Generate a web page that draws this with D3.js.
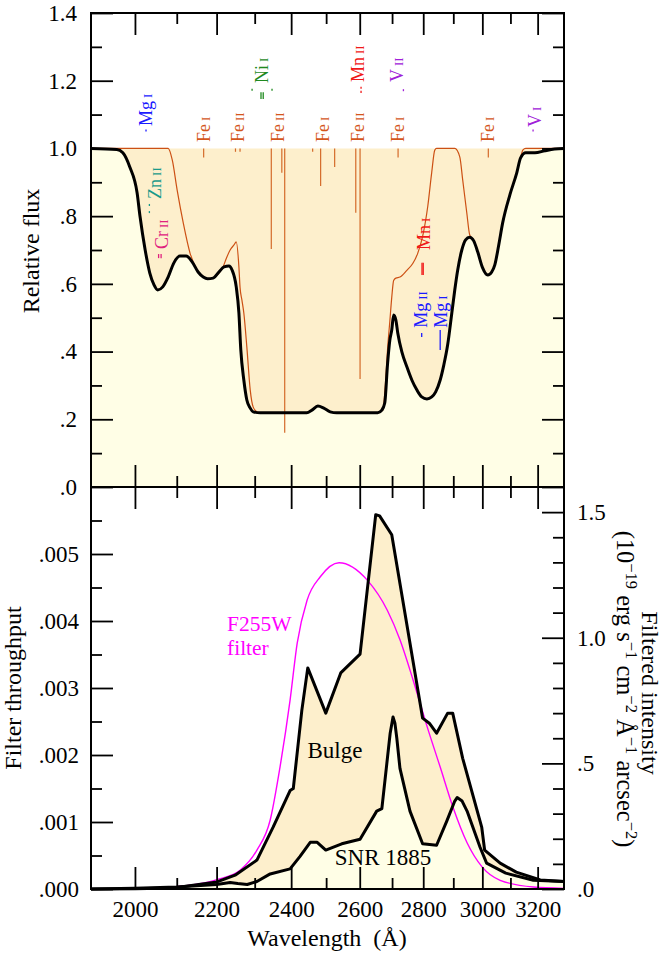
<!DOCTYPE html>
<html><head><meta charset="utf-8">
<script src="https://cdn.jsdelivr.net/npm/d3@7"></script>
<style>body{margin:0;background:#fff}svg{display:block}</style>
</head><body><svg id="c" width="665" height="954"></svg>
<script>
// ---------- data ----------
const wavelengthTicks = [2000, 2200, 2400, 2600, 2800, 3000, 3200];
const wavelengthMinor = [2100, 2300, 2500, 2700, 2900, 3100];
const fluxTicks = [0, 0.2, 0.4, 0.6, 0.8, 1.0, 1.2, 1.4];
const fluxTickLabels = [".0", ".2", ".4", ".6", ".8", "1.0", "1.2", "1.4"];
const fluxMinor = [0.1, 0.3, 0.5, 0.7, 0.9, 1.1, 1.3];
const throughputTicks = [0, 0.001, 0.002, 0.003, 0.004, 0.005];
const throughputTickLabels = [".000", ".001", ".002", ".003", ".004", ".005"];
const throughputMinor = [0.0005, 0.0015, 0.0025, 0.0035, 0.0045, 0.0055];
const intensityTicks = [0, 0.5, 1.0, 1.5];
const intensityTickLabels = [".0", ".5", "1.0", "1.5"];
const intensityMinor = [0.1, 0.2, 0.3, 0.4, 0.6, 0.7, 0.8, 0.9, 1.1, 1.2, 1.3, 1.4];

// top panel: broad absorption profile (thick black)
const fluxProfile = [
 [1900,1.0],[1958,0.997],[1972,0.987],[1988,0.945],[2005,0.869],[2012,0.798],[2024,0.70],[2035,0.632],
 [2045,0.597],[2054,0.582],[2066,0.591],[2079,0.62],[2093,0.662],[2108,0.682],[2123,0.682],[2138,0.665],
 [2153,0.635],[2166,0.62],[2177,0.615],[2191,0.617],[2206,0.635],[2219,0.65],[2232,0.653],[2240,0.641],
 [2251,0.591],[2258,0.514],[2263,0.405],[2271,0.316],[2279,0.257],[2288,0.233],[2296,0.222],[2315,0.219],
 [2444,0.219],[2459,0.227],[2476,0.239],[2493,0.233],[2512,0.222],[2531,0.219],[2655,0.219],[2668,0.227],
 [2677,0.248],[2686,0.366],[2693,0.434],[2699,0.464],[2705,0.508],[2712,0.493],[2718,0.455],[2731,0.399],
 [2747,0.355],[2763,0.316],[2779,0.287],[2795,0.266],[2812,0.26],[2828,0.266],[2841,0.281],[2856,0.316],
 [2868,0.36],[2881,0.42],[2895,0.514],[2905,0.582],[2915,0.641],[2929,0.70],[2942,0.73],[2956,0.738],
 [2970,0.727],[2984,0.694],[3001,0.647],[3019,0.626],[3033,0.635],[3044,0.656],[3058,0.715],[3072,0.78],
 [3098,0.863],[3123,0.928],[3137,0.972],[3156,0.987],[3190,0.987],[3227,0.993],[3264,0.998],[3300,1.0]
];
// top panel: thin (orange) profile
const thinProfile = [
 [1900,1.0],[2079,1.0],[2089,0.966],[2101,0.877],[2116,0.78],[2133,0.69],[2151,0.64],[2166,0.62],
 [2177,0.615],[2191,0.617],[2206,0.632],[2216,0.648],[2225,0.675],[2235,0.70],[2245,0.715],[2251,0.724],
 [2258,0.65],[2261,0.59],[2266,0.552],[2271,0.514],[2279,0.414],[2288,0.287],[2296,0.236],[2306,0.222],
 [2315,0.219],[2444,0.219],[2459,0.227],[2476,0.239],[2493,0.233],[2512,0.222],[2531,0.219],[2655,0.219],
 [2671,0.227],[2680,0.316],[2686,0.41],[2693,0.49],[2699,0.56],[2705,0.61],[2712,0.617],[2725,0.62],
 [2747,0.64],[2766,0.66],[2782,0.69],[2798,0.74],[2815,0.83],[2828,0.93],[2838,0.995],[2844,1.0],
 [2905,1.0],[2922,0.975],[2932,0.907],[2946,0.81],[2956,0.745],[2970,0.727],[2984,0.694],[3001,0.647],
 [3019,0.626],[3033,0.635],[3044,0.656],[3058,0.715],[3072,0.78],[3098,0.863],[3123,0.928],[3137,0.972],
 [3145,0.995],[3156,1.0],[3300,1.0]
];
// narrow absorption lines: [wavelength, depth reached]
const narrowLines = [
 [2167,0.973],[2249,0.99],[2261,0.99],[2345,0.703],[2374,0.928],[2382,0.16],[2461,0.99],
 [2484,0.889],[2525,0.945],[2588,0.81],[2601,0.319],[2719,0.973],[3021,0.973]
];
// ion labels: [element, ionisation stage, wavelength, flux at label foot]
const ionLabels = [
 ["Mg","I",2026,1.066],["Fe","I",2167,1.019],["Fe","II",2255,1.019],["Ni","I",2320,1.193],
 ["Fe","II",2363,1.019],["Fe","I",2490,1.019],["Mn","II",2594,1.196],["Fe","II",2594,1.019],
 ["V","II",2715,1.196],["Fe","I",2718,1.019],["Fe","I",3021,1.019],["V","I",3190,1.063],
 ["Zn","II",2047,0.851],["Cr","II",2064,0.703],["Mn","I",2801,0.700],["Mg","II",2792,0.470],
 ["Mg","I",2858,0.470]
];
// ion line markers: [element, wavelength, flux top, flux bottom]
const ionMarkers = [
 ["Mg",2026,1.056,1.050],["Zn",2034,0.836,0.830],["Zn",2034,0.815,0.809],
 ["Cr",2056,0.688,0.676],["Cr",2062,0.688,0.676],
 ["Ni",2293,1.176,1.170],["Ni",2317,1.166,1.146],["Ni",2323,1.166,1.146],["Ni",2347,1.176,1.170],
 ["Mn",2604,1.182,1.176],["Mn",2604,1.170,1.164],["V",2736,1.175,1.169],["V",3183,1.056,1.050],
 ["Mn",2796,0.662,0.626],["Mn",2800,0.662,0.626],["Mg",2795,0.455,0.443],["Mg",2856,0.464,0.405]
];

// bottom panel
const filterThroughput = [
 [1900,0],[2000,0.00001],[2091,0.00003],[2150,0.00007],[2201,0.00014],[2261,0.00028],[2306,0.00058],
 [2342,0.00103],[2369,0.00182],[2397,0.00282],[2417,0.00367],[2445,0.00431],[2483,0.00466],[2538,0.00487],
 [2623,0.00461],[2685,0.00416],[2725,0.00372],[2767,0.00312],[2813,0.00242],[2856,0.00182],[2899,0.00122],
 [2947,0.00069],[2999,0.00033],[3063,0.00013],[3184,0.00003],[3300,0.00001]
];
const bulgeIntensity = [
 [1900,0.0],[2000,0.001],[2091,0.004],[2201,0.028],[2248,0.055],[2306,0.115],[2350,0.246],[2397,0.392],
 [2406,0.40],[2430,0.71],[2447,0.88],[2499,0.70],[2543,0.86],[2601,0.935],[2649,1.49],[2661,1.485],
 [2699,1.41],[2798,0.68],[2820,0.66],[2844,0.62],[2881,0.70],[2898,0.70],[2932,0.52],[2998,0.245],
 [3008,0.155],[3063,0.103],[3121,0.067],[3210,0.036],[3300,0.03]
];
const snrIntensity = [
 [1900,0.0],[2000,0.003],[2100,0.008],[2200,0.018],[2235,0.026],[2255,0.022],[2280,0.018],[2306,0.03],
 [2342,0.06],[2397,0.08],[2425,0.13],[2454,0.186],[2474,0.186],[2499,0.155],[2546,0.18],[2601,0.198],
 [2652,0.31],[2668,0.32],[2694,0.62],[2703,0.685],[2709,0.66],[2715,0.6],[2725,0.48],[2757,0.31],
 [2798,0.18],[2844,0.174],[2878,0.27],[2905,0.35],[2913,0.364],[2930,0.35],[2947,0.31],[2992,0.166],
 [3015,0.103],[3083,0.063],[3184,0.035],[3300,0.03]
];

// ---------- styles ----------
const SERIF = "Liberation Serif, Times New Roman, serif";
const ionColors = {Mg:"#1a1aff",Fe:"#d4561c",Ni:"#1f8a1f",Mn:"#f01818",V:"#a020d8",Zn:"#1a9a8a",Cr:"#e0207f"};
const PEACH = "#fdefcc", CREAM = "#fffee6", ORANGE = "#cc5014", MAGENTA = "#ff00ff";

// ---------- scales ----------
const L = 91, R = 564, T1 = 13, B1 = 487, T2 = 487, B2 = 889;
const x = d3.scaleLog().domain([1900, 3300]).range([L, R]);
const yTop = d3.scaleLinear().domain([0, 1.4]).range([B1, T1]);
const yThru = d3.scaleLinear().domain([0, 0.006]).range([B2, T2]);
const yInt = d3.scaleLinear().domain([0, 1.6]).range([B2, T2]);

const svg = d3.select("#c");
svg.append("rect").attr("width",665).attr("height",954).attr("fill","#fff");

// ---------- top panel ----------
const topG = svg.append("g");
const curve = d3.curveMonotoneX;
topG.append("path").datum(fluxProfile).attr("fill", PEACH)
  .attr("d", d3.area().curve(curve).x(d=>x(d[0])).y0(yTop(1)).y1(d=>yTop(d[1])));
topG.append("path").datum(fluxProfile).attr("fill", CREAM)
  .attr("d", d3.area().curve(curve).x(d=>x(d[0])).y0(yTop(0)).y1(d=>yTop(d[1])));
topG.selectAll("line.nl").data(narrowLines).join("line").attr("class","nl")
  .attr("x1", d=>x(d[0])).attr("x2", d=>x(d[0])).attr("y1", yTop(1)).attr("y2", d=>yTop(d[1]))
  .attr("stroke", "#d46a2a").attr("stroke-width", 1.2);
topG.append("path").datum(thinProfile).attr("fill","none").attr("stroke", ORANGE).attr("stroke-width",1.2)
  .attr("d", d3.line().curve(curve).x(d=>x(d[0])).y(d=>yTop(d[1])));
topG.append("path").datum(fluxProfile).attr("fill","none").attr("stroke","#000").attr("stroke-width",3)
  .attr("stroke-linejoin","round")
  .attr("d", d3.line().curve(curve).x(d=>x(d[0])).y(d=>yTop(d[1])));
topG.selectAll("line.mk").data(ionMarkers).join("line").attr("class","mk")
  .attr("x1", d=>x(d[1])).attr("x2", d=>x(d[1])).attr("y1", d=>yTop(d[2])).attr("y2", d=>yTop(d[3]))
  .attr("stroke", d=>ionColors[d[0]]).attr("stroke-width", 1.3);
const labs = topG.selectAll("text.ion").data(ionLabels).join("text").attr("class","ion")
  .attr("transform", d=>`translate(${x(d[2])+6},${yTop(d[3])}) rotate(-90)`)
  .attr("fill", d=>ionColors[d[0]]).style("font-family", SERIF).attr("font-size", 18);
labs.append("tspan").text(d=>d[0]);
labs.append("tspan").attr("font-size", 13).attr("dx", 3).text(d=>d[1]);

// ---------- bottom panel ----------
const botG = svg.append("g");
botG.append("path").datum(bulgeIntensity).attr("fill", PEACH)
  .attr("d", d3.area().x(d=>x(d[0])).y0(yInt(0)).y1(d=>yInt(d[1])));
botG.append("path").datum(snrIntensity).attr("fill", CREAM)
  .attr("d", d3.area().x(d=>x(d[0])).y0(yInt(0)).y1(d=>yInt(d[1])));
botG.append("path").datum(filterThroughput).attr("fill","none").attr("stroke", MAGENTA).attr("stroke-width",1.4)
  .attr("d", d3.line().curve(d3.curveMonotoneX).x(d=>x(d[0])).y(d=>yThru(d[1])));
[bulgeIntensity, snrIntensity].forEach(s => {
  botG.append("path").datum(s).attr("fill","none").attr("stroke","#000").attr("stroke-width",3)
    .attr("stroke-linejoin","round")
    .attr("d", d3.line().x(d=>x(d[0])).y(d=>yInt(d[1])));
});
function txt(g, tx, ty, s, anchor, color, fs) {
  return g.append("text").attr("x", tx).attr("y", ty).attr("text-anchor", anchor || "start")
    .attr("fill", color || "#000").style("font-family", SERIF).attr("font-size", fs || 23).text(s);
}
txt(botG, 227, 631, "F255W", "start", MAGENTA, 21.5);
txt(botG, 227, 655, "filter", "start", MAGENTA, 21.5);
txt(botG, 335, 758, "Bulge", "middle");
txt(botG, 383, 865, "SNR 1885", "middle");

// ---------- axes ----------
function styl(g) {
  g.attr("font-family", null).attr("font-size", 23).style("font-family", SERIF);
  g.select(".domain").remove();
  g.selectAll(".tick line").attr("stroke","#000").attr("stroke-width",1.8);
  g.selectAll(".tick text").attr("fill","#000").style("font-family", SERIF);
}
function ax(axisFn, scale, vals, len, tx, ty, fmt, pad) {
  const a = axisFn(scale).tickValues(vals).tickSizeInner(-len).tickSizeOuter(0)
    .tickPadding(pad || 0).tickFormat(fmt || (() => ""));
  const g = svg.append("g").attr("transform", `translate(${tx},${ty})`).call(a);
  styl(g);
  return g;
}
// top panel
ax(d3.axisLeft, yTop, fluxTicks, 22, L, 0, (d,i)=>fluxTickLabels[i], 14);
ax(d3.axisLeft, yTop, fluxMinor, 11, L, 0);
ax(d3.axisRight, yTop, fluxTicks, 22, R, 0);
ax(d3.axisRight, yTop, fluxMinor, 11, R, 0);
ax(d3.axisTop, x, wavelengthTicks, 22, 0, T1);
ax(d3.axisTop, x, wavelengthMinor, 11, 0, T1);
ax(d3.axisBottom, x, wavelengthTicks, 22, 0, B1);
ax(d3.axisBottom, x, wavelengthMinor, 11, 0, B1);
// bottom panel
ax(d3.axisTop, x, wavelengthTicks, 22, 0, T2);
ax(d3.axisTop, x, wavelengthMinor, 11, 0, T2);
ax(d3.axisBottom, x, wavelengthTicks, 22, 0, B2, d=>String(d), 12);
ax(d3.axisBottom, x, wavelengthMinor, 11, 0, B2);
ax(d3.axisLeft, yThru, throughputTicks, 22, L, 0, (d,i)=>throughputTickLabels[i], 12);
ax(d3.axisLeft, yThru, throughputMinor, 11, L, 0);
ax(d3.axisRight, yInt, intensityTicks, 22, R, 0, (d,i)=>intensityTickLabels[i], 13);
ax(d3.axisRight, yInt, intensityMinor, 11, R, 0);

// frames
svg.append("rect").attr("x", L).attr("y", T1).attr("width", R-L).attr("height", B1-T1)
  .attr("fill","none").attr("stroke","#000").attr("stroke-width",2);
svg.append("rect").attr("x", L).attr("y", T2).attr("width", R-L).attr("height", B2-T2)
  .attr("fill","none").attr("stroke","#000").attr("stroke-width",2);

// axis titles
function rtxt(tx, ty, rot, s, fs) {
  return svg.append("text").attr("transform", `translate(${tx},${ty}) rotate(${rot})`)
    .attr("text-anchor","middle").style("font-family", SERIF).attr("font-size", fs || 24).text(s);
}
rtxt(39, 251, -90, "Relative flux");
rtxt(21, 688, -90, "Filter throughput");
svg.append("text").attr("x", 327).attr("y", 946).attr("text-anchor","middle")
  .style("font-family", SERIF).attr("font-size", 24).attr("xml:space","preserve").text("Wavelength\u00a0 (Å)");
rtxt(642, 693, 90, "Filtered intensity");
const unitParts = [["(10",0],["\u221219",1],[" erg s",0],["\u22121",1],[" cm",0],["\u22122",1],[" Å",0],["\u22121",1],[" arcsec",0],["\u22122",1],[")",0]];
const ut = svg.append("text").attr("transform","translate(617,689) rotate(90)").attr("text-anchor","middle")
  .style("font-family", SERIF).attr("font-size", 24.5).attr("xml:space","preserve");
let prevSup = 0;
unitParts.forEach(p => {
  const sp = ut.append("tspan").text(p[0]);
  if (p[1]) sp.attr("font-size", 16.5);
  const shift = (p[1] ? -9 : 0) - (prevSup ? -9 : 0);
  if (shift) sp.attr("dy", shift);
  prevSup = p[1];
});
</script></body></html>
